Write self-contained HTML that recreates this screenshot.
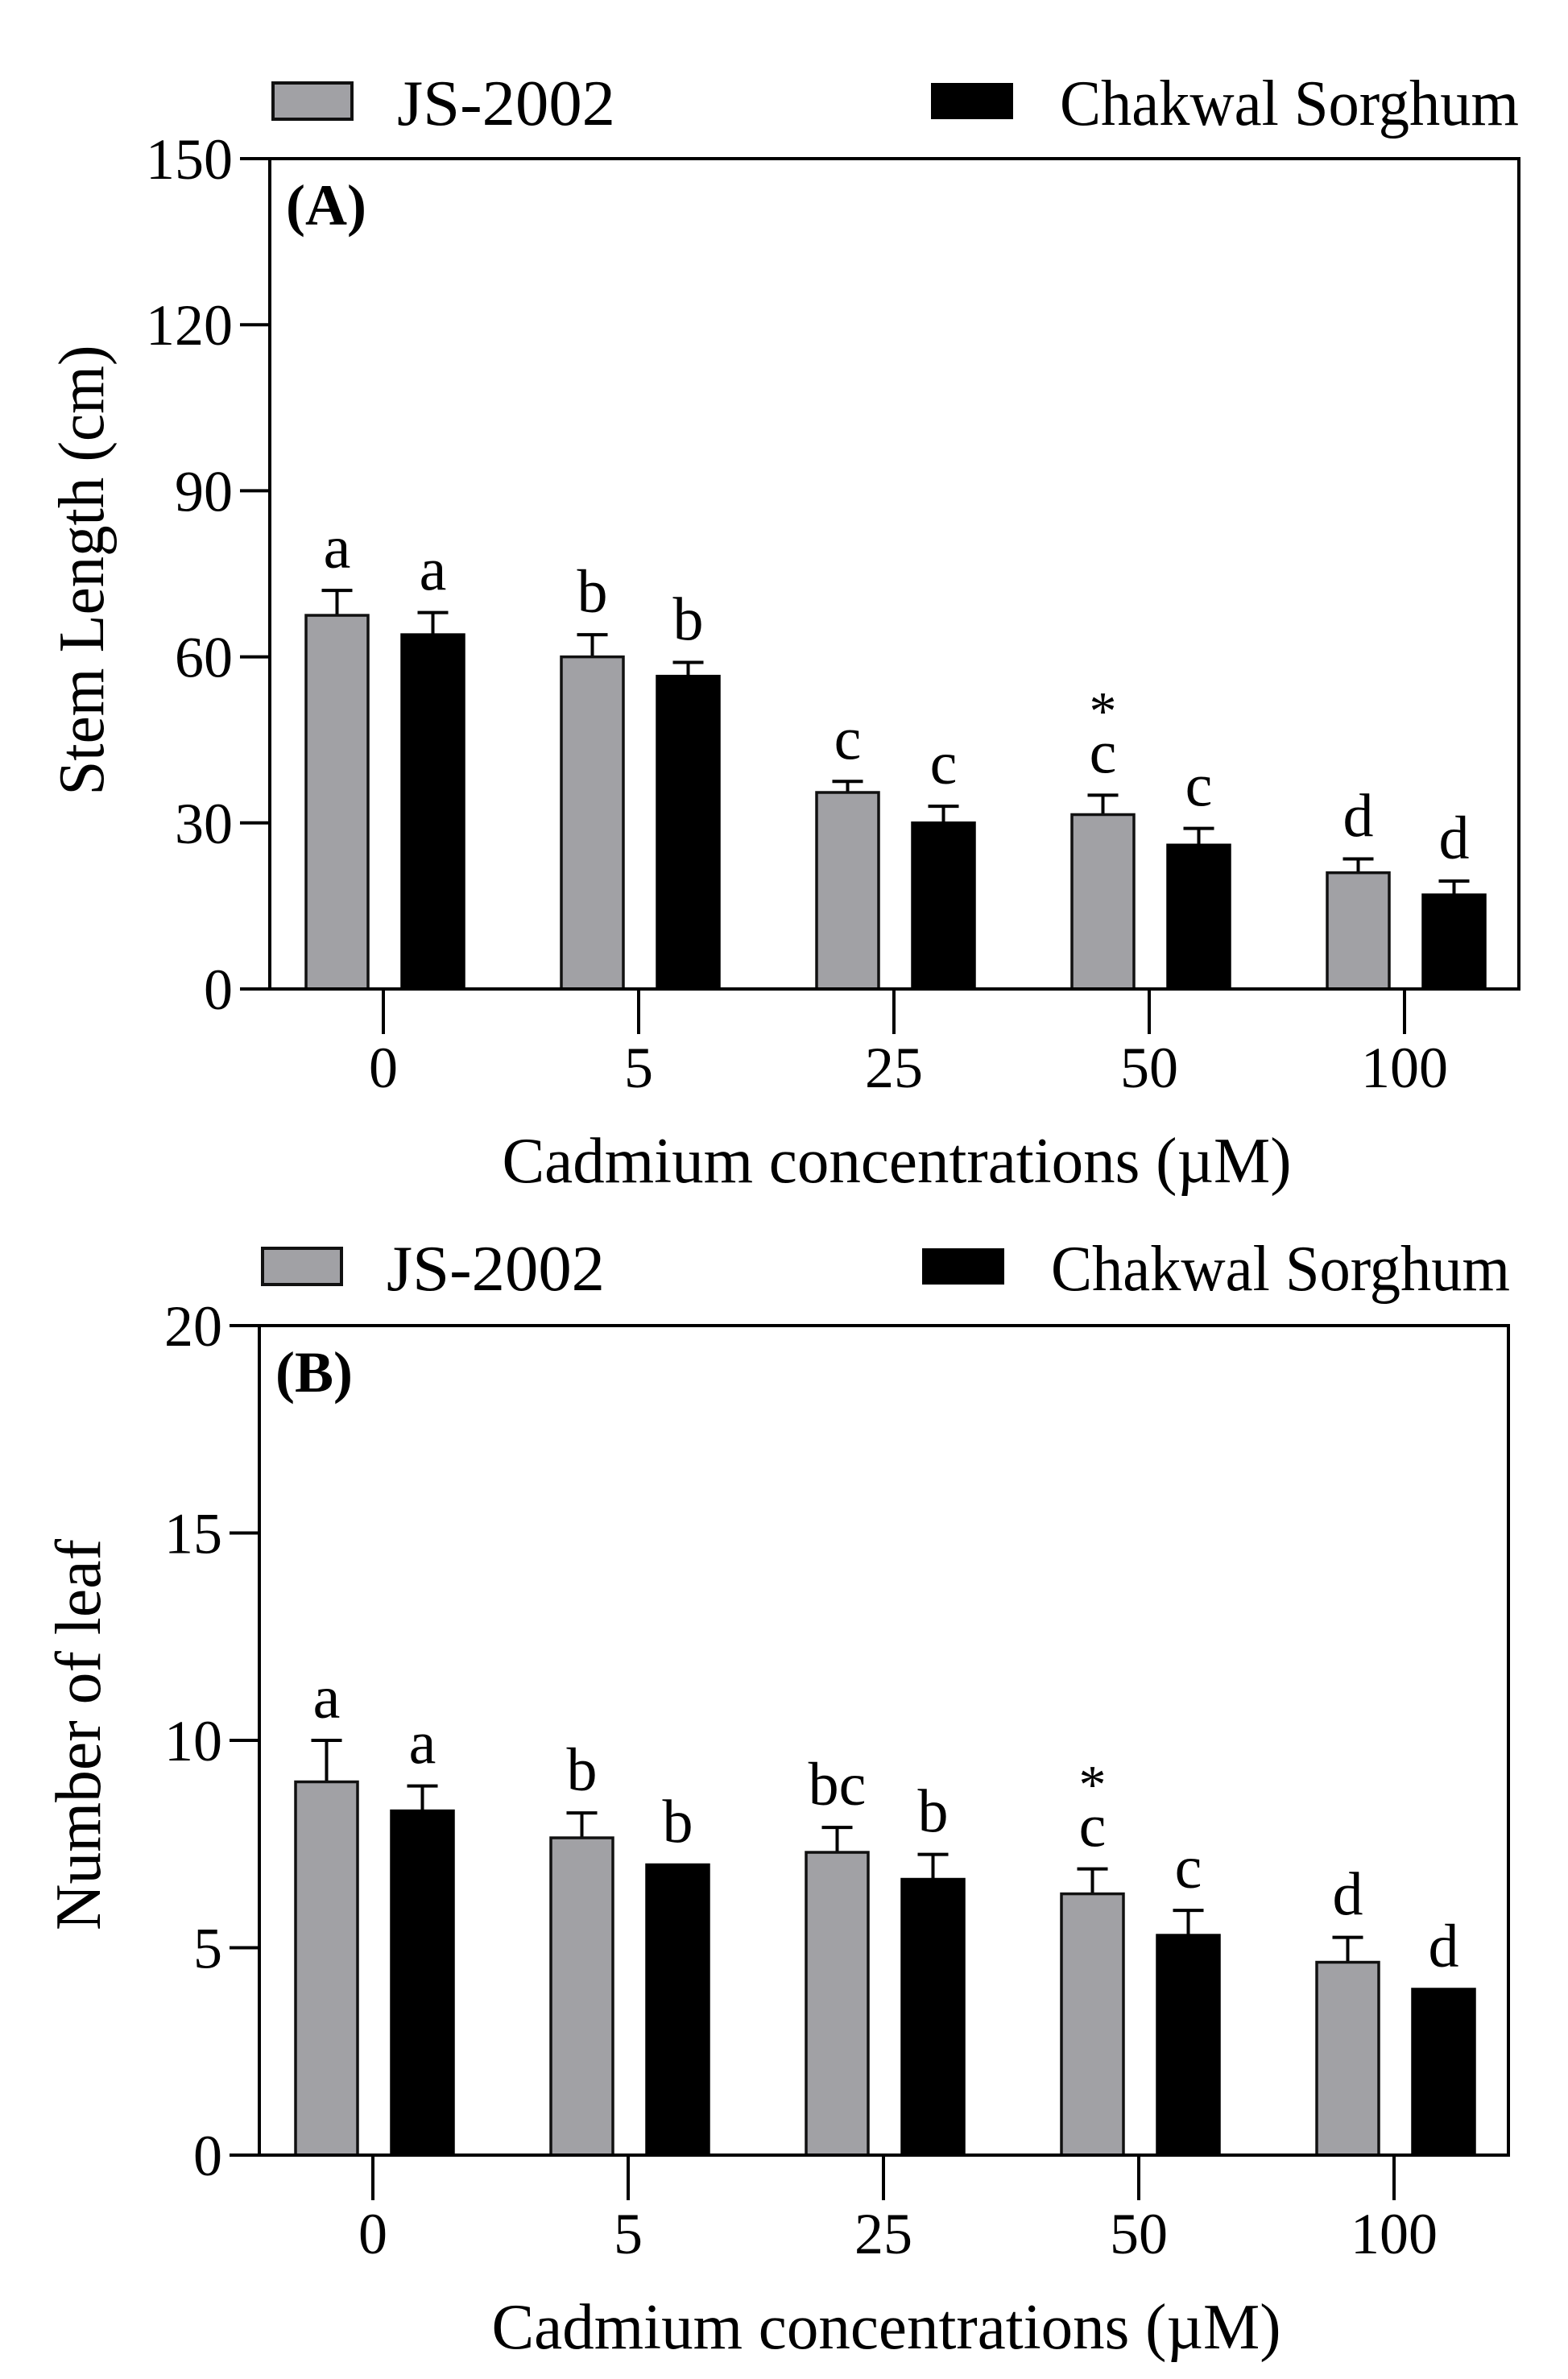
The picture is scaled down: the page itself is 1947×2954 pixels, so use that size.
<!DOCTYPE html>
<html><head><meta charset="utf-8"><style>
html,body{margin:0;padding:0;background:#fff;}
svg{display:block;font-family:"Liberation Serif",serif;}
</style></head><body>
<svg id="fig" width="1947" height="2954" viewBox="0 0 1947 2954" xmlns="http://www.w3.org/2000/svg"></svg>
<script>
const categories = ["0","5","25","50","100"];
const stemJS = [67.5, 60, 35.5, 31.5, 21];
const stemJSErr = [4.5, 4, 2, 3.5, 2.5];
const stemCS = [64, 56.5, 30, 26, 17];
const stemCSErr = [4, 2.5, 3, 3, 2.5];
const stemJSLetters = ["a","b","c","c","d"];
const stemCSLetters = ["a","b","c","c","d"];
const stemJSStar = [false,false,false,true,false];
const stemTicks = [0,30,60,90,120,150];

const leafJS = [9, 7.65, 7.3, 6.3, 4.65];
const leafJSErr = [1, 0.6, 0.6, 0.6, 0.6];
const leafCS = [8.3, 7.0, 6.65, 5.3, 4.0];
const leafCSErr = [0.6, 0, 0.6, 0.6, 0];
const leafJSLetters = ["a","b","bc","c","d"];
const leafCSLetters = ["a","b","b","c","d"];
const leafJSStar = [false,false,false,true,false];
const leafTicks = [0,5,10,15,20];

const NS = "http://www.w3.org/2000/svg";
const svg = document.getElementById('fig');
function mk(tag, attrs, parent){
  const e = document.createElementNS(NS, tag);
  for (const k in attrs) e.setAttribute(k, attrs[k]);
  (parent||svg).appendChild(e);
  return e;
}

function panel(p){
  const g = mk('g', {});
  
  
  const L=p.left,R=p.right,T=p.top,B=p.bottom;
  const ymax = p.ticks[p.ticks.length-1];
  const y = v => B - (v/ymax)*(B-T);
  const cx = i => L + 141 + i*317;

  const lg = mk('g', {}, g);
  
  
  const r1 = mk('rect', {x:p.legX1, y:p.legY, width:98, height:45, fill:'#a1a1a5', stroke:'#111', 'stroke-width':4}, lg);
  
  
  const t1 = mk('text', {x:p.legX1+154, y:p.legY+52, 'font-size':80, textLength:271, lengthAdjust:'spacingAndGlyphs'}, lg);
  t1.textContent = 'JS-2002';
  
  
  const r2 = mk('rect', {x:p.legX2, y:p.legY, width:102, height:45, fill:'#000'}, lg);
  
  
  const t2 = mk('text', {x:p.legX2+160, y:p.legY+52, 'font-size':80, textLength:570, lengthAdjust:'spacingAndGlyphs'}, lg);
  t2.textContent = 'Chakwal Sorghum';
  
  

  const series = [
    {vals:p.js, err:p.jsErr, let:p.jsLet, star:p.jsStar, x0:-96, fill:'#a1a1a5', stroke:'#111', nm:'js-2002'},
    {vals:p.cs, err:p.csErr, let:p.csLet, star:null, x0:23, fill:'#000', stroke:'#000', nm:'chakwal'}
  ];
  series.forEach(s=>{
    s.vals.forEach((v,i)=>{
      const bx = cx(i)+s.x0, bw = 77;
      const top = y(v), et = y(v+s.err[i]);
      const mid = bx + bw/2;
      if (s.err[i] > 0){
        const el = mk('path', {d:`M${mid},${top} V${et} M${mid-19},${et} H${mid+19}`, stroke:'#000', 'stroke-width':4, fill:'none'}, g);
        
        
      }
      const r = mk('rect', {x:bx, y:top, width:bw, height:B-top, fill:s.fill, stroke:s.stroke, 'stroke-width':3.5}, g);
      
      
      const lt = mk('text', {x:mid, y:et-28, 'font-size':76, 'text-anchor':'middle'}, g);
      lt.textContent = s.let[i];
      
      
      if (s.star && s.star[i]){
        const st = mk('text', {x:mid, y:et-82, 'font-size':68, 'text-anchor':'middle'}, g);
        st.textContent = '*';
        
        
      }
    });
  });

  const fr = mk('rect', {x:L, y:T, width:R-L, height:B-T, fill:'none', stroke:'#000', 'stroke-width':4}, g);
  
  

  p.ticks.forEach(t=>{
    const ty = y(t);
    const tk = mk('line', {x1:L-37, x2:L, y1:ty, y2:ty, stroke:'#000', 'stroke-width':4}, g);
    
    
    const tl = mk('text', {x:L-46, y:ty+25, 'font-size':72, 'text-anchor':'end'}, g);
    tl.textContent = t;
    
    
  });
  categories.forEach((c,i)=>{
    const tk = mk('line', {x1:cx(i), x2:cx(i), y1:B, y2:B+56, stroke:'#000', 'stroke-width':4}, g);
    
    
    const tl = mk('text', {x:cx(i), y:B+122, 'font-size':72, 'text-anchor':'middle'}, g);
    tl.textContent = c;
    
    
  });
  const xt = mk('text', {x:(L+R)/2+3, y:B+240, 'font-size':80, 'text-anchor':'middle', textLength:980, lengthAdjust:'spacingAndGlyphs'}, g);
  xt.textContent = 'Cadmium concentrations (\u00B5M)';
  
  
  const yt = mk('text', {x:0, y:0, 'font-size':80, 'text-anchor':'middle', textLength:p.ytlen, lengthAdjust:'spacingAndGlyphs', transform:`translate(${p.ytx},${p.yty}) rotate(-90)`}, g);
  yt.textContent = p.ytitle;
  
  
  const pl = mk('text', {x:L+20, y:T+82, 'font-size':72, 'font-weight':'bold'}, g);
  pl.textContent = p.label;
  
  
}

panel({name:'panel-a-stem-length', left:335, right:1886, top:197, bottom:1228, ticks:stemTicks,
  js:stemJS, jsErr:stemJSErr, cs:stemCS, csErr:stemCSErr, jsLet:stemJSLetters, csLet:stemCSLetters, jsStar:stemJSStar,
  legX1:339, legX2:1156, legY:103, ytitle:'Stem Length (cm)', ytlen:559, ytx:128, yty:708, label:'(A)'});
panel({name:'panel-b-number-of-leaf', left:322, right:1873, top:1646, bottom:2676, ticks:leafTicks,
  js:leafJS, jsErr:leafJSErr, cs:leafCS, csErr:leafCSErr, jsLet:leafJSLetters, csLet:leafCSLetters, jsStar:leafJSStar,
  legX1:326, legX2:1145, legY:1550, ytitle:'Number of leaf', ytlen:486, ytx:124, yty:2154, label:'(B)'});
</script>
</body></html>
